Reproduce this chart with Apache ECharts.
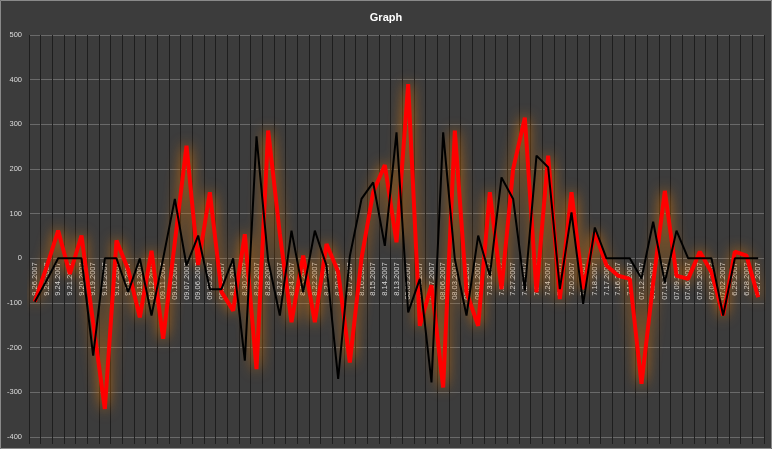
<!DOCTYPE html>
<html><head><meta charset="utf-8">
<script src="https://cdn.jsdelivr.net/npm/echarts@6/dist/echarts.min.js"></script>
<style>html,body{margin:0;padding:0;background:#3c3c3c}#c{width:772px;height:449px}</style>
</head><body><div id="c"></div>
<script>
const categories = [
 '9.26.2007','9.25.2007','9.24.2007','9.21.2007','9.20.2007','9.19.2007','9.18.2007','9.17.2007','9.14.2007','9.13.2007',
 '09.12.2007','09.11.2007','09.10.2007','09.07.2007','09.06.2007','09.05.2007','09.04.2007',
 '8.31.2007','8.30.2007','8.29.2007','8.28.2007','8.27.2007','8.24.2007','8.23.2007','8.22.2007','8.21.2007','8.20.2007',
 '8.17.2007','8.16.2007','8.15.2007','8.14.2007','8.13.2007',
 '08.09.2007','08.08.2007','08.07.2007','08.06.2007','08.03.2007','08.02.2007','08.01.2007',
 '7.31.2007','7.30.2007','7.27.2007','7.26.2007','7.25.2007','7.24.2007','7.23.2007','7.20.2007','7.19.2007','7.18.2007',
 '7.17.2007','7.16.2007','7.13.2007',
 '07.12.2007','07.11.2007','07.10.2007','07.09.2007','07.06.2007','07.05.2007','07.03.2007','07.02.2007',
 '6.29.2007','6.28.2007','6.27.2007'
];
const redValues = [
 -97,-20,62,-35,51,-145,-337,40,-25,-132,
 17,-180,36,252,-15,148,-75,
 -117,54,-248,286,55,-143,6,-143,32,-30,
 -233,0,148,209,36,
 390,-151,-60,-289,286,-76,-151,
 148,-69,200,315,-76,230,-91,148,-69,58,
 -16,-39,-46,
 -281,-55,151,-39,-46,15,-31,-128,
 15,6,-87
];
const blackValues = [
 -97,-50,0,0,0,-218,0,0,-76,0,
 -128,0,133,-16,51,-69,-69,
 0,-229,273,-5,-128,62,-76,62,-16,-270,
 5,133,170,28,282,
 -121,-46,-278,282,-2,-128,51,
 -39,181,133,-72,230,204,-69,103,-102,69,
 0,0,0,
 -45,82,-54,62,0,0,0,-128,
 0,0,0
];
const yTicks = [-400,-300,-200,-100,0,100,200,300,400,500];

const FONT = 'Liberation Sans, Arial, sans-serif';
const GRID = {left:29,right:8,top:35,bottom:12};
const plotH = 449 - GRID.top - GRID.bottom;
const yMin = yTicks[0], yMax = yTicks[yTicks.length-1];
// lift the label axis from the bottom edge up to the zero line
const zeroOffset = -plotH * (0 - yMin) / (yMax - yMin);

const chart = echarts.init(document.getElementById('c'), null, {renderer:'canvas'});
chart.setOption({
  backgroundColor:'#3c3c3c',
  animation:false,
  title:{text:'Graph',left:'center',top:7,textStyle:{color:'#ffffff',fontSize:11,fontWeight:'bold',fontFamily:FONT}},
  grid:Object.assign({containLabel:false},GRID),
  xAxis:[{
    type:'category',data:categories,boundaryGap:true,position:'bottom',offset:zeroOffset,
    axisLine:{show:false,onZero:false},
    axisTick:{show:false},
    axisLabel:{interval:0,rotate:90,fontSize:7.5,color:'#d8d8d8',margin:4,fontFamily:FONT},
    splitLine:{show:true,interval:0,lineStyle:{color:'#1e1e1e',width:1}}
  },{
    type:'category',data:categories,boundaryGap:true,position:'bottom',
    axisLine:{show:false,onZero:false},
    axisTick:{show:true,interval:0,length:7,lineStyle:{color:'#1e1e1e',width:1}},
    axisLabel:{show:false},splitLine:{show:false}
  }],
  yAxis:{
    type:'value',min:yMin,max:yMax,interval:100,
    axisLine:{show:false},axisTick:{show:false},
    axisLabel:{fontSize:7.5,color:'#dcdcdc',margin:7,fontFamily:FONT},
    splitLine:{lineStyle:{color:'#6a6a6a',width:1}}
  },
  series:[
    {type:'line',data:redValues,showSymbol:false,symbol:'none',z:2,
     lineStyle:{color:'#ff0000',width:4,shadowColor:'rgba(230,120,0,0.95)',shadowBlur:14}},
    {type:'line',data:blackValues,showSymbol:false,symbol:'none',z:3,
     lineStyle:{color:'#000000',width:2}}
  ],
  graphic:[{type:'rect',shape:{x:0.5,y:0.5,width:771,height:448},style:{fill:'none',stroke:'#8a8a8a',lineWidth:1},silent:true,z:100}]
});
</script></body></html>
